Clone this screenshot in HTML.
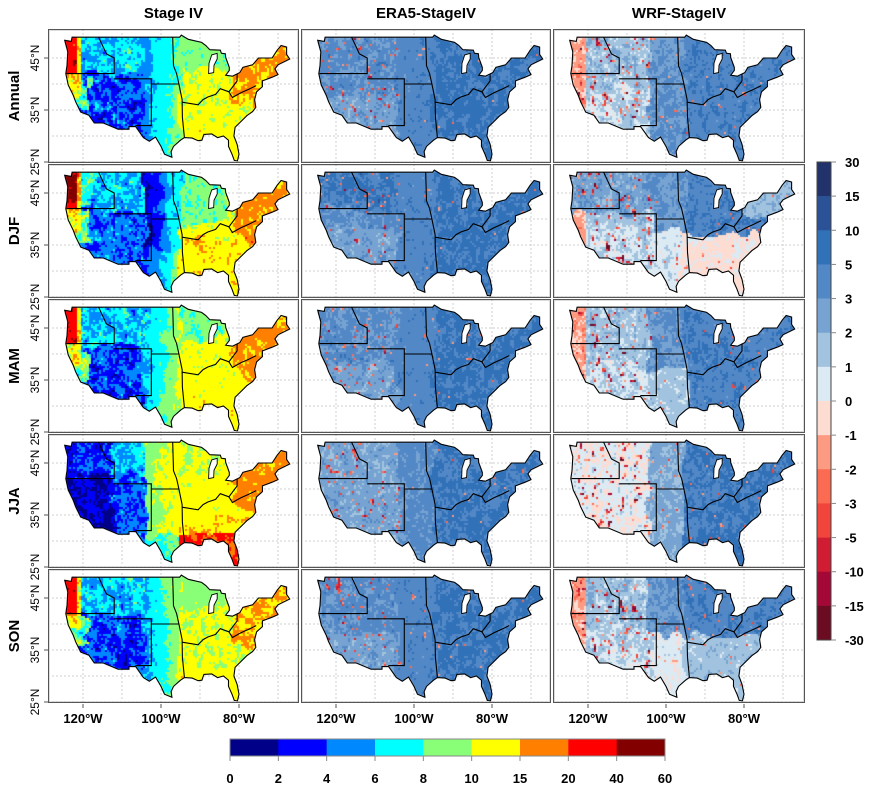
<!DOCTYPE html>
<html><head><meta charset="utf-8">
<style>
html,body{margin:0;padding:0;background:#fff;}
#wrap{position:relative;width:874px;height:790px;overflow:hidden;font-family:"Liberation Sans",sans-serif;}
svg,canvas{position:absolute;left:0;top:0;}
</style></head>
<body>
<div id="wrap">
<svg id="bg" width="874" height="790"></svg>
<canvas id="cv" width="874" height="790"></canvas>
<svg id="fg" width="874" height="790"></svg>
</div>
<script>
// ---- data arrays ----
const colTitles = ["Stage IV","ERA5-StageIV","WRF-StageIV"];
const rowTitles = ["Annual","DJF","MAM","JJA","SON"];
const latTicks = [45,35,25];
const lonTicks = [-120,-100,-80];
const seqLabels = ["0","2","4","6","8","10","15","20","40","60"];
const seqColors = ["#000088","#0000ff","#0088ff","#00ffff","#88ff77","#ffff00","#ff8000","#ff0000","#820000"];
const divLabels = ["30","15","10","5","3","2","1","0","-1","-2","-3","-5","-10","-15","-30"];
const divColors = ["#22336b","#2b5197","#3171b8","#5388c6","#76a3d1","#a2c3df","#dceaf3","#fddcd2","#fc9b82","#fb6b52","#f1443a","#d11d34","#a30837","#6b0c22"];
const outline = [[-124.7,48.4],[-123,48.2],[-122.8,49],[-95.2,49],[-94.8,49.4],[-93,48.6],[-89.6,48],[-88.5,47.4],[-87.5,46.6],[-84.8,46.5],[-84.5,45.9],[-83.5,45.8],[-83.4,45.1],[-82.5,43.2],[-82.5,42.6],[-83.4,41.7],[-81.7,41.5],[-79.8,42.2],[-79,43.2],[-76.5,43.7],[-75,45],[-71.5,45],[-70.2,46.5],[-69.2,47.4],[-67.8,47.1],[-67.8,45.7],[-67,44.8],[-70,43.7],[-70.8,42.9],[-70,41.8],[-71.5,41.3],[-74,40.6],[-74,39.5],[-75.5,38.5],[-76,37],[-75.7,35.5],[-76.5,34.7],[-78,33.9],[-79.2,33],[-81,31.7],[-81.3,30],[-80.5,28.4],[-80,26.5],[-80.4,25.2],[-81.2,25.3],[-81.8,26.5],[-82.7,28],[-82.7,29.2],[-84,30],[-85.5,29.7],[-87,30.4],[-89,30.3],[-89.5,29.2],[-90.5,29.1],[-92,29.6],[-94,29.7],[-95,29.2],[-96.8,28],[-97.4,27],[-97.2,25.9],[-99.1,26.5],[-100,28],[-101.4,29.8],[-103,29],[-104.5,29.7],[-106.5,31.8],[-108.2,31.8],[-108.2,31.3],[-111,31.3],[-114.8,32.5],[-117.1,32.5],[-118.5,34],[-120.6,34.6],[-121.9,36.6],[-122.5,37.8],[-123.8,39.8],[-124.4,42],[-124.1,43.5],[-123.9,46.2],[-124.7,48.4]];
const lakeMichigan = [[-87.8,42],[-87.7,44],[-87,45.6],[-85.6,45.9],[-85.6,44.8],[-86.4,43.6],[-86.5,42.2]];
const regionLines = [
 [[-124.2,42],[-112,42],[-112,45],[-114,45.8],[-116,49]],
 [[-112,41],[-102.5,41],[-102.5,32],[-106.6,32]],
 [[-97,49],[-96.8,43.5],[-96,42],[-95.4,40],[-102.5,40]],
 [[-95.4,40],[-94.6,37],[-94.5,33.6],[-94,29.7]],
 [[-94.6,36.5],[-90.5,36],[-89.2,37],[-88,37.5],[-86,38],[-84.8,39.1],[-82.6,38.5],[-80.5,40.6],[-80.5,42]],
 [[-82.6,38.5],[-81.7,37.4],[-79.5,38.3],[-77.5,39],[-75.6,39.7]]
];
// ---- geometry ----
const colLeft=[48,301,553], colRight=[299,551,805];
const rowTop=[29,164,299,434,569];
function X(c,lon){return colLeft[c]+113+(lon+100)*3.9;}
function Y(r,lat){return rowTop[r]+81-(lat-35)*5.2;}
const NS="http://www.w3.org/2000/svg";
function mk(par,tag,attrs,name,txt){const e=document.createElementNS(NS,tag);for(const k in attrs)e.setAttribute(k,attrs[k]);
 
 
 if(txt!==undefined)e.textContent=txt;par.appendChild(e);return e;}
const bg=document.getElementById('bg'), fg=document.getElementById('fg');
// ---- texture noise ----
function hash(i,j,s){let x=Math.sin(i*12.9898+j*78.233+s*37.719)*43758.5453;return x-Math.floor(x);}
function vn(x,y,s){const i=Math.floor(x),j=Math.floor(y);let fx=x-i,fy=y-j;fx=fx*fx*(3-2*fx);fy=fy*fy*(3-2*fy);
 const a=hash(i,j,s),b=hash(i+1,j,s),c=hash(i,j+1,s),d=hash(i+1,j+1,s);return a+(b-a)*fx+(c-a)*fy+(a-b-c+d)*fx*fy;}
function patch(lon,lat,s){return 2*(0.45*vn(lon/1.1,lat/1.1,s)+0.35*vn(lon/0.45,lat/0.45,s+3)+0.2*hash(Math.floor(lon*5),Math.floor(lat*4),s+7)-0.5);}
function warp(lon,lat,s){return [lon+3*(vn(lon/2.5,lat/2.5,s+91)-0.5), lat+2.4*(vn(lon/2.5,lat/2.5,s+57)-0.5)];}
// Stage IV bin index (0..8)
function stage(lon0,lat0,r){
 const w=warp(lon0,lat0,r); const lon=w[0], lat=w[1];
 let v, amp=0.75;
 const west=lon<-104;
 if(west){
  amp=1.9;
  v = lat>42 ? 3.1 : 1.9;
  if(lon0<-121.3&&lat0>42) {v=7.6;amp=1.0;}
  else if(lon0<-120.5&&lat>38) v=5.5;
  else if(lon<-118.5&&lat>35.5&&lat<41) v=4.2;
  if(r===1){ if(lat<42&&lon>-119) v+=0.3; if(lat>42&&lon<-117) v+=0.8; }
  if(r===3){ v = (lat<43)?0.9:1.8; if(lon>-112&&lon<-104) v+=1.2; if(lon0<-121.3&&lat0>42) v=1.3; amp=1.6;}
 } else if(lon<-95){
  const t=(lon+104)/9;
  v=[2.6+t*1.9,0.7+t*2.8,2.9+t*2.2,4.6+t*1.0,2.8+t*2.0][r];
  if(r===1&&lon>-98) v=3.3;
  if(r===1&&lat<34) v+=1;
  if(r===3&&lat<31) v-=1.2;
 } else {
  v=[5.2,5.3,5.3,5.4,5.1][r];
  if(lat>43&&lon<-84) v=[4.3,3.4,4.2,5,4.6][r];
  if(r===1&&lat>39&&lon<-83) v=4.2;
  if(lon>-81.5&&lat>37+(lon+81)*-0.3) v+=0.9;
  if(lat<31.5) v+= (r===3?1.2:0.4);
  if(r===3&&lat<34) v+=0.5;
  if(r===1&&lat<36.5&&lat>31.5) v+=0.5;
 }
 v+=patch(lon0,lat0,r*3+1)*amp;
 return Math.max(0,Math.min(8,Math.floor(v)));
}
// diff bin index (0..13), 0 = most positive
function diff(lon0,lat0,r,m){
 const w=warp(lon0,lat0,r+20*m); const lon=w[0], lat=w[1];
 let v, amp=1.0, spot=0;
 const west=lon<-104;
 if(m===0){ // ERA5
  v = lon>-95 ? 2.9 : (west ? 3.8 : 3.4);
  if(west&&lat<38) v=4.5;
  if(r===3){ v = west?4.6:(lon<-95?3.8:2.9); }
  if(r===1&&west&&lat>42) v=3.0;
  spot = west?0.86:0.95;
  if(west) amp=1.5;
 } else { // WRF
  v = west ? 5.4 : (lon<-95 ? 4.0 : 3.2);
  if(west&&lat<39) v=6.0;
  if(lon0<-120.5) v=8.3;
  if(r===1){ if(lon>-96&&lat<37) v=7.2; if(lon>-104&&lon<-96&&lat<38) v=6.3; if(lat>41&&lon>-80) v=5.2; if(west&&lat>41) v=4.4;}
  if(r===2&&lon>-104&&lon<-95&&lat<37) v=5.6;
  if(r===3){ v = west?6.8:(lon<-95?4.8:3.0); if(lat<31&&lon>-95) v=2.6;}
  if(r===4){ if(lon>-104&&lon<-95&&lat<38) v=6.6; if(lon>-95&&lat<38) v=5.4;}
  spot = west?0.82:0.93;
  amp = west?1.8:1.2;
 }
 v+=patch(lon0,lat0,r*5+m*11+2)*amp;
 const h=vn(lon0/0.6,lat0/0.6,r*7+m*13+5);
 if(h>spot) v = 8.5+ (h-spot)*35;
 return Math.max(0,Math.min(13,Math.floor(v)));
}
// ---- grid (background) ----
for(let c=0;c<3;c++)for(let r=0;r<5;r++){
 for(const lat of [25,30,35,40,45]) mk(bg,'line',{x1:colLeft[c],x2:colRight[c],y1:Y(r,lat),y2:Y(r,lat),stroke:'#cfcfcf','stroke-dasharray':'2,2','stroke-width':1},'lat-gridline');
 for(const lon of [-120,-110,-100,-90,-80,-70]) mk(bg,'line',{x1:X(c,lon),x2:X(c,lon),y1:rowTop[r],y2:rowTop[r]+135,stroke:'#cfcfcf','stroke-dasharray':'2,2','stroke-width':1},'lon-gridline');
}
// ---- map fields ----
const ctx=document.getElementById('cv').getContext('2d');
function outlinePath(c,r,poly){ctx.beginPath();poly.forEach((p,i)=>{const x=X(c,p[0]),y=Y(r,p[1]);i?ctx.lineTo(x,y):ctx.moveTo(x,y);});ctx.closePath();}
for(let c=0;c<3;c++)for(let r=0;r<5;r++){
 ctx.save();outlinePath(c,r,outline);ctx.clip();
 const x0=Math.floor(X(c,-125)), x1=Math.ceil(X(c,-66.5)), y0=Math.floor(Y(r,49.6)), y1=Math.ceil(Y(r,24.5));
 for(let x=x0;x<x1;x+=2)for(let y=y0;y<y1;y+=2){
  const lon=(x+1-colLeft[c]-113)/3.9-100, lat=35-(y+1-rowTop[r]-81)/5.2;
  ctx.fillStyle = c===0 ? seqColors[stage(lon,lat,r)] : divColors[diff(lon,lat,r,c-1)];
  ctx.fillRect(x,y,2,2);
 }
 ctx.restore();
 outlinePath(c,r,lakeMichigan);ctx.fillStyle='#fff';ctx.fill();
}
// ---- overlay: outlines, regions, panels ----
function pts(c,r,poly){return poly.map(p=>X(c,p[0]).toFixed(1)+','+Y(r,p[1]).toFixed(1)).join(' ');}
for(let c=0;c<3;c++)for(let r=0;r<5;r++){
 const g=mk(fg,'g',{},'panel-'+colTitles[c].toLowerCase().replace(/\s+/g,'-')+'-'+rowTitles[r].toLowerCase());
 mk(g,'polygon',{points:pts(c,r,outline),fill:'none',stroke:'#000','stroke-width':1.1},'us-outline');
 mk(g,'polygon',{points:pts(c,r,lakeMichigan),fill:'none',stroke:'#000','stroke-width':0.9},'lake-michigan');
 regionLines.forEach(l=>mk(g,'polyline',{points:pts(c,r,l),fill:'none',stroke:'#000','stroke-width':1.1},'region-boundary'));
 mk(g,'rect',{x:colLeft[c]+0.5,y:rowTop[r]+0.5,width:colRight[c]-colLeft[c]-1,height:133,fill:'none',stroke:'#555','stroke-width':1},'panel-frame');
 mk(g,'rect',{x:colLeft[c]+1.5,y:rowTop[r]+1.5,width:colRight[c]-colLeft[c]-3,height:131,fill:'none',stroke:'#bbb','stroke-width':1,'stroke-dasharray':'1,1'},'panel-frame-inner');
}
// titles
colTitles.forEach((t,c)=>mk(fg,'text',{x:(colLeft[c]+colRight[c])/2,y:18,'text-anchor':'middle','font-size':15,'font-weight':'bold',fill:'#000'},'column-title',t));
rowTitles.forEach((t,r)=>{const cy=rowTop[r]+67;mk(fg,'text',{x:19,y:cy,'text-anchor':'middle','font-size':15,'font-weight':'bold',fill:'#000',transform:'rotate(-90 19 '+cy+')'},'row-title',t);});
// lat ticks/labels
rowTitles.forEach((t,r)=>latTicks.forEach(lat=>{const y=Y(r,lat);
 mk(fg,'line',{x1:44,x2:48,y1:y,y2:y,stroke:'#555'},'lat-tick');
 mk(fg,'text',{x:39,y:y,'text-anchor':'middle','font-size':12,fill:'#000',transform:'rotate(-90 39 '+y+')'},'lat-label',lat+'°N');}));
// lon ticks/labels
for(let c=0;c<3;c++)lonTicks.forEach(lon=>{const x=X(c,lon);
 mk(fg,'line',{x1:x,x2:x,y1:704,y2:708,stroke:'#555'},'lon-tick');
 mk(fg,'text',{x:x,y:723,'text-anchor':'middle','font-size':13,'font-weight':'bold',fill:'#000'},'lon-label',(-lon)+'°W');});
// bottom colorbar
const hb=mk(fg,'g',{},'precip-colorbar');
const bw=(665-230)/seqColors.length;
seqColors.forEach((col,i)=>mk(hb,'rect',{x:230+i*bw,y:739,width:bw+0.3,height:17,fill:col},'precip-colorbar-bin'));
mk(hb,'rect',{x:230,y:739,width:435,height:17,fill:'none',stroke:'#888'},'precip-colorbar-frame');
seqLabels.forEach((l,i)=>{const x=230+i*bw;mk(hb,'line',{x1:x,x2:x,y1:756,y2:761,stroke:'#888'},'precip-colorbar-tick');
 mk(hb,'text',{x:x,y:783,'text-anchor':'middle','font-size':13,'font-weight':'bold',fill:'#000'},'precip-colorbar-label',l);});
// right colorbar
const vb=mk(fg,'g',{},'diff-colorbar');
const bh=(640-162)/divColors.length;
divColors.forEach((col,i)=>mk(vb,'rect',{x:817,y:162+i*bh,width:14,height:bh+0.3,fill:col},'diff-colorbar-bin'));
mk(vb,'rect',{x:817,y:162,width:14,height:478,fill:'none',stroke:'#444'},'diff-colorbar-frame');
divLabels.forEach((l,i)=>{const y=162+i*bh;mk(vb,'line',{x1:831,x2:836,y1:y,y2:y,stroke:'#888'},'diff-colorbar-tick');
 mk(vb,'text',{x:845,y:y+5,'font-size':13,'font-weight':'bold',fill:'#000'},'diff-colorbar-label',l);});
</script>
</body></html>
